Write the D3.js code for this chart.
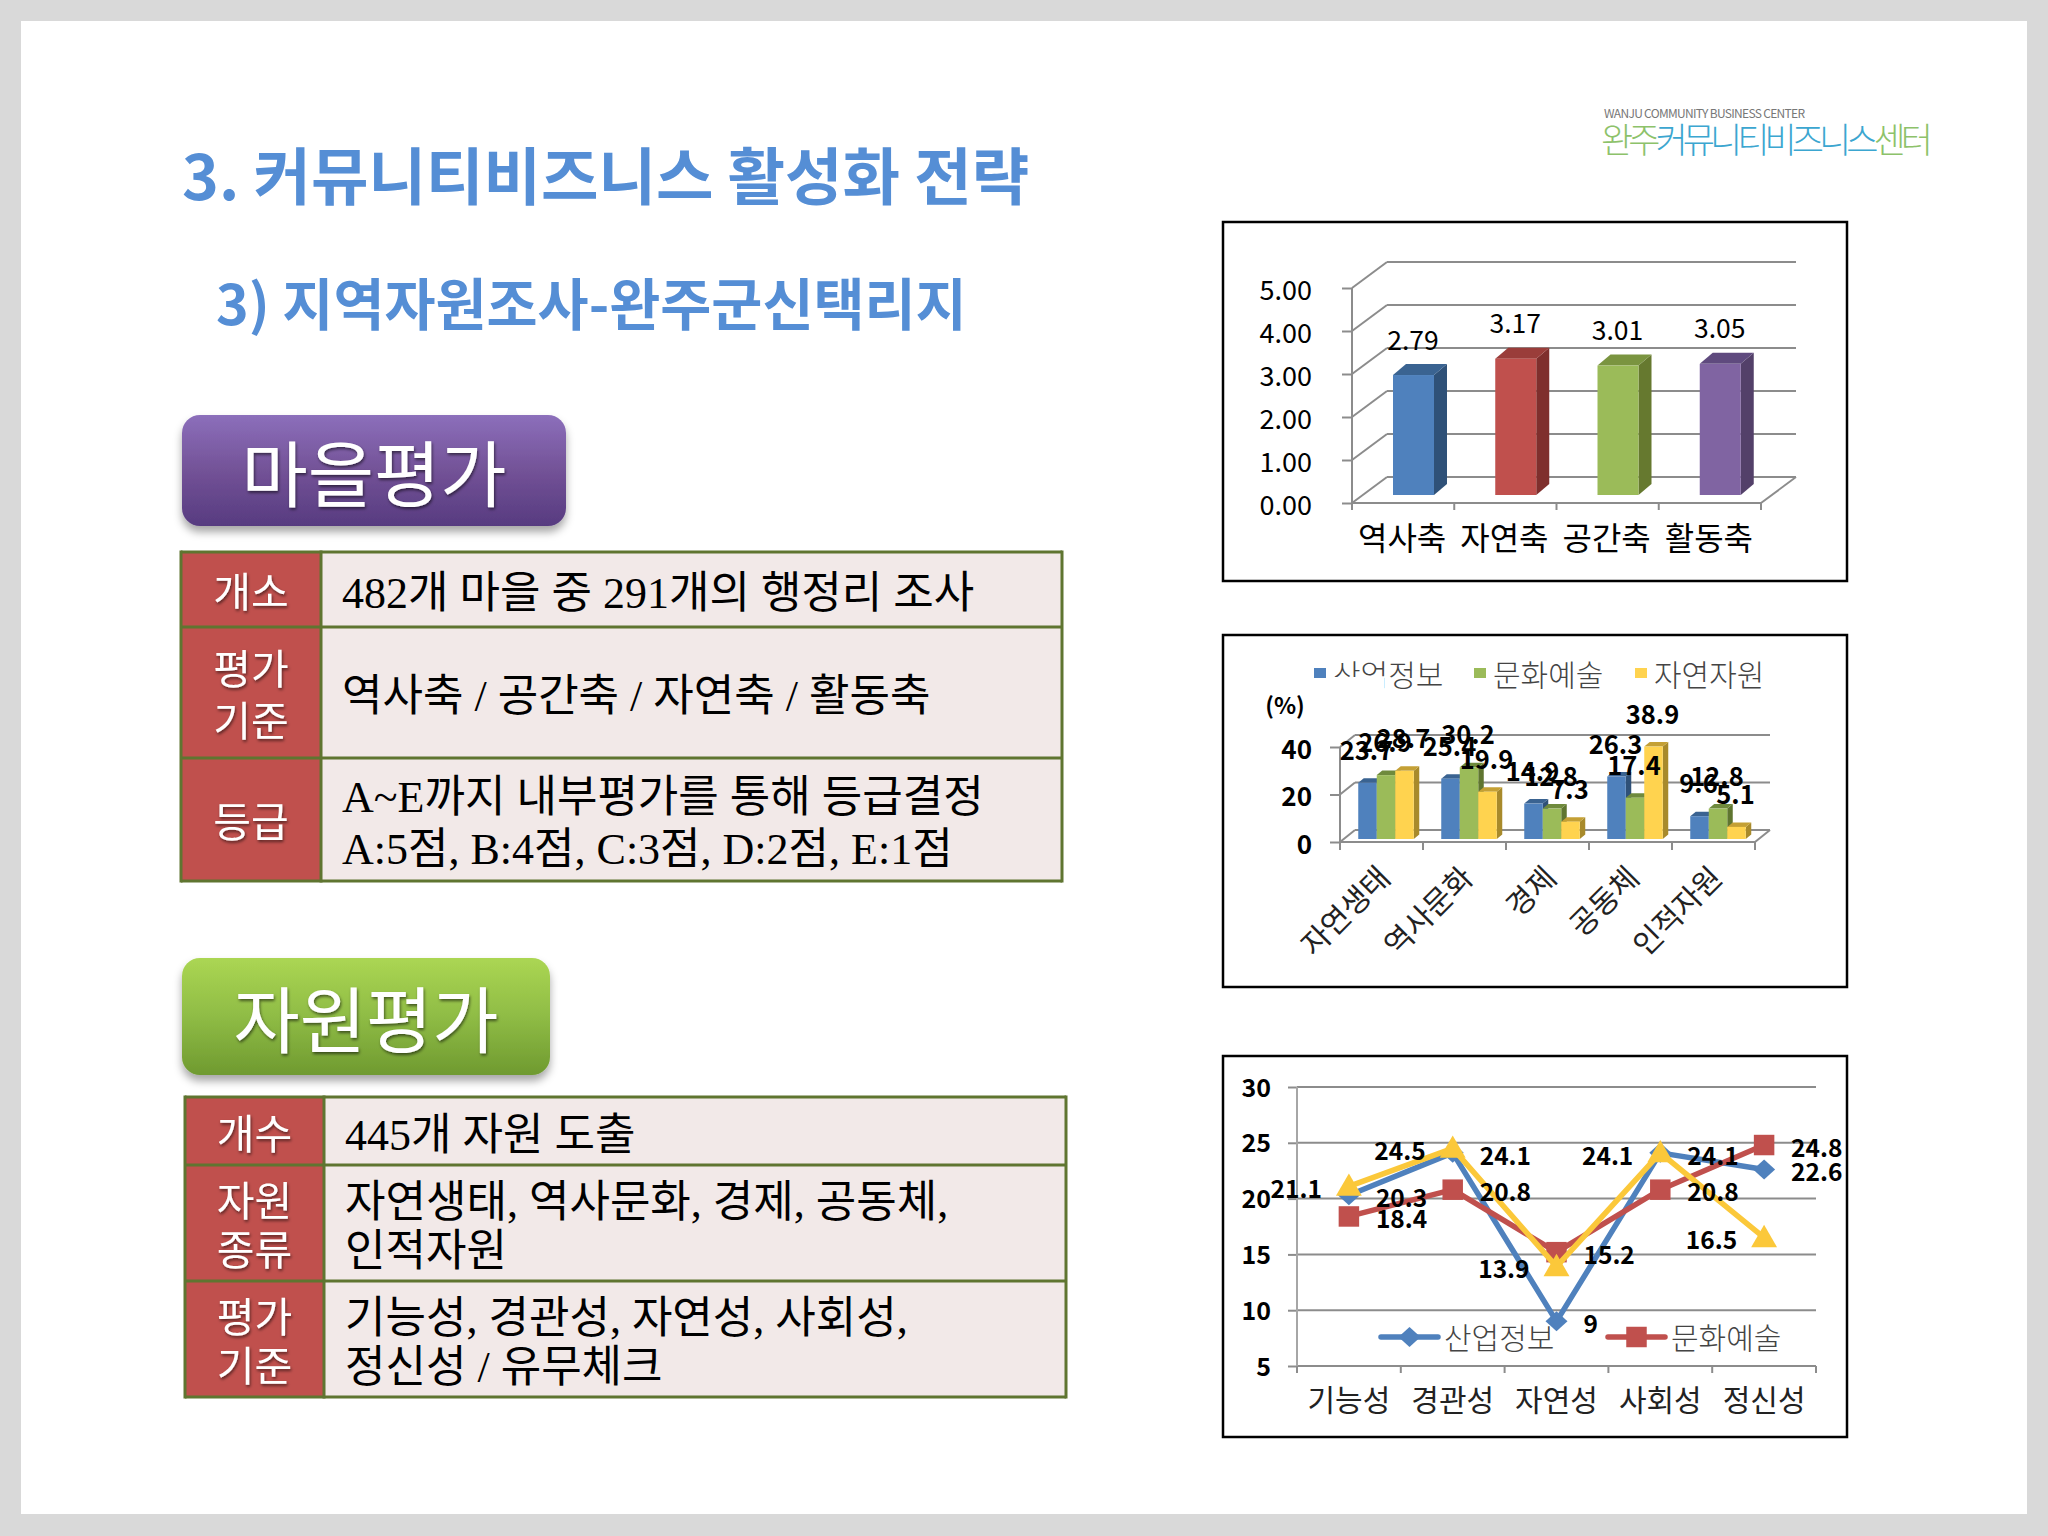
<!DOCTYPE html>
<html>
<head>
<meta charset="utf-8">
<script src="https://cdn.jsdelivr.net/npm/d3@7"></script>
<style>
	html, body { margin: 0; padding: 0; background: #d9d9d9; }
	svg { display: block; }
	text { font-family: "Noto Sans CJK KR", sans-serif; }
	.serif { font-family: "Liberation Serif", "Noto Sans CJK KR", serif; }
</style>
</head>
<body>
<div id="slide"></div>
<script>
// chart 1: village evaluation
var axisNames = ["역사축", "자연축", "공간축", "활동축"];
var axisScores = [2.79, 3.17, 3.01, 3.05];
var axisTicks = [0, 1, 2, 3, 4, 5];
var axisFront = ["#4f81bd", "#c0504d", "#9bbb59", "#8064a2"];
var axisSide = ["#2f5178", "#7f2f2d", "#66792f", "#534069"];
var axisTop = ["#3a6391", "#9a3d3a", "#7a9440", "#5f4a7e"];

// chart 2: resource share
var shareCategories = ["자연생태", "역사문화", "경제", "공동체", "인적자원"];
var shareSeries = ["산업정보", "문화예술", "자연자원"];
var shareIndustry = [23.7, 25.4, 14.9, 26.3, 9.6];
var shareCulture = [26.9, 30.2, 12.8, 17.4, 12.8];
var shareNature = [28.7, 19.9, 7.3, 38.9, 5.1];
var shareTicks = [0, 20, 40];
var shareFront = ["#4f81bd", "#9bbb59", "#ffd34f"];
var shareSide = ["#2f5178", "#5f7530", "#a88a2b"];
var shareTop = ["#3a6391", "#6f8a3c", "#c4a035"];

// chart 3: resource evaluation
var criteria = ["기능성", "경관성", "자연성", "사회성", "정신성"];
var evalIndustry = [20.3, 24.1, 9, 24.1, 22.6];
var evalCulture = [18.4, 20.8, 15.2, 20.8, 24.8];
var evalNature = [21.1, 24.5, 13.9, 24.1, 16.5];
var evalTicks = [5, 10, 15, 20, 25, 30];

// tables
var villageHead = [["개소"], ["평가", "기준"], ["등급"]];
var villageBody = [
	["482개 마을 중 291개의 행정리 조사"],
	["역사축 / 공간축 / 자연축 / 활동축"],
	["A~E까지 내부평가를 통해 등급결정", "A:5점, B:4점, C:3점, D:2점, E:1점"]
];
var resourceHead = [["개수"], ["자원", "종류"], ["평가", "기준"]];
var resourceBody = [
	["445개 자원 도출"],
	["자연생태, 역사문화, 경제, 공동체,", "인적자원"],
	["기능성, 경관성, 자연성, 사회성,", "정신성 / 유무체크"]
];

var GRID = "#8c8c8c";

var svg = d3.select("#slide").append("svg")
	.attr("width", 2048)
	.attr("height", 1536);

svg.append("rect").attr("width", 2048).attr("height", 1536).attr("fill", "#d9d9d9");
svg.append("rect").attr("x", 21).attr("y", 21).attr("width", 2006).attr("height", 1493).attr("fill", "#ffffff");

var defs = svg.append("defs");

function addGradient(id, top, mid, bottom) {
	var g = defs.append("linearGradient").attr("id", id)
		.attr("x1", 0).attr("y1", 0).attr("x2", 0).attr("y2", 1);
	g.append("stop").attr("offset", "0%").attr("stop-color", top);
	g.append("stop").attr("offset", "50%").attr("stop-color", mid);
	g.append("stop").attr("offset", "100%").attr("stop-color", bottom);
}
addGradient("purpleBtn", "#8c6fbb", "#735297", "#573b80");
addGradient("greenBtn", "#abd653", "#8fbc45", "#6f9a30");

var shadow = defs.append("filter").attr("id", "btnShadow")
	.attr("x", "-10%").attr("y", "-10%").attr("width", "120%").attr("height", "130%");
shadow.append("feDropShadow").attr("dx", 0).attr("dy", 6).attr("stdDeviation", 4)
	.attr("flood-color", "#000").attr("flood-opacity", 0.35);

var glow = defs.append("filter").attr("id", "textGlow")
	.attr("x", "-10%").attr("y", "-10%").attr("width", "120%").attr("height", "120%");
glow.append("feDropShadow").attr("dx", 1).attr("dy", 2).attr("stdDeviation", 1.5)
	.attr("flood-color", "#000").attr("flood-opacity", 0.55);

// headings
svg.append("text").attr("x", 182).attr("y", 200)
	.attr("font-size", 62.5).attr("font-weight", 700).attr("fill", "#558ed5")
	.text("3. 커뮤니티비즈니스 활성화 전략");
svg.append("text").attr("x", 216).attr("y", 325)
	.attr("font-size", 55.5).attr("font-weight", 700).attr("fill", "#558ed5")
	.text("3) 지역자원조사-완주군신택리지");

// logo
svg.append("text").attr("x", 1604).attr("y", 118)
	.attr("font-size", 12).attr("fill", "#777777")
	.attr("textLength", 201)
	.text("WANJU COMMUNITY BUSINESS CENTER");
var logo = svg.append("text").attr("x", 1601).attr("y", 153)
	.attr("font-size", 35).attr("font-weight", 300)
	.attr("textLength", 332);
logo.append("tspan").attr("fill", "#8dc26a").text("완주");
logo.append("tspan").attr("fill", "#3ba6d0").text("커뮤니티비즈니스");
logo.append("tspan").attr("fill", "#8dc26a").text("센터");

function drawButton(x, y, w, h, fill, label) {
	svg.append("rect")
		.attr("x", x).attr("y", y).attr("width", w).attr("height", h)
		.attr("rx", 18).attr("fill", "url(#" + fill + ")")
		.attr("filter", "url(#btnShadow)");
	svg.append("text")
		.attr("x", x + w / 2).attr("y", y + h / 2 + 30)
		.attr("text-anchor", "middle")
		.attr("font-size", 72).attr("fill", "#ffffff")
		.attr("filter", "url(#textGlow)")
		.text(label);
}
drawButton(182, 415, 384, 111, "purpleBtn", "마을평가");
drawButton(182, 958, 368, 117, "greenBtn", "자원평가");

// table rows are given by their y edges
function drawTable(x0, xSplit, x1, rowEdges, heads, bodies, lineGap) {
	var rows = d3.range(heads.length);

	svg.append("g").selectAll("rect").data(rows).enter().append("rect")
		.attr("x", x0).attr("y", function(i) { return rowEdges[i]; })
		.attr("width", xSplit - x0)
		.attr("height", function(i) { return rowEdges[i + 1] - rowEdges[i]; })
		.attr("fill", "#c0504d");
	svg.append("rect")
		.attr("x", xSplit).attr("y", rowEdges[0])
		.attr("width", x1 - xSplit).attr("height", rowEdges[rowEdges.length - 1] - rowEdges[0])
		.attr("fill", "#f2e9e8");

	rowEdges.forEach(function(y) {
		svg.append("line").attr("x1", x0).attr("x2", x1).attr("y1", y).attr("y2", y)
			.attr("stroke", "#5f7530").attr("stroke-width", 3);
	});
	[x0, xSplit, x1].forEach(function(x) {
		svg.append("line").attr("x1", x).attr("x2", x)
			.attr("y1", rowEdges[0] - 1.5).attr("y2", rowEdges[rowEdges.length - 1] + 1.5)
			.attr("stroke", "#5f7530").attr("stroke-width", 3);
	});

	rows.forEach(function(i) {
		var mid = (rowEdges[i] + rowEdges[i + 1]) / 2 + 3;
		heads[i].forEach(function(t, k) {
			svg.append("text")
				.attr("x", (x0 + xSplit) / 2)
				.attr("y", mid + (k - (heads[i].length - 1) / 2) * lineGap)
				.attr("dy", "0.36em")
				.attr("text-anchor", "middle")
				.attr("font-size", 41).attr("fill", "#ffffff")
				.attr("filter", "url(#textGlow)")
				.text(t);
		});
		bodies[i].forEach(function(t, k) {
			svg.append("text")
				.attr("class", "serif")
				.attr("x", xSplit + 21)
				.attr("y", mid + (k - (bodies[i].length - 1) / 2) * lineGap)
				.attr("dy", "0.36em")
				.attr("font-size", 44).attr("fill", "#000000")
				.text(t);
		});
	});
}
drawTable(181, 321, 1062, [552, 627, 758, 881], villageHead, villageBody, 52);
drawTable(185, 324, 1066, [1097, 1165, 1281, 1397], resourceHead, resourceBody, 49);

function drawBox(y0, y1) {
	svg.append("rect")
		.attr("x", 1223).attr("y", y0).attr("width", 624).attr("height", y1 - y0)
		.attr("fill", "#ffffff").attr("stroke", "#000000").attr("stroke-width", 2.5);
}

function styleValueAxis(g, size, weight, shift) {
	g.select(".domain").remove();
	g.selectAll("line").attr("stroke", GRID).attr("stroke-width", 2);
	g.selectAll("text")
		.attr("font-family", '"Noto Sans CJK KR"')
		.attr("font-size", size).attr("font-weight", weight).attr("fill", "#000000")
		.attr("y", shift);
}

// 3D column drawn as front, side and top faces
function column(g, x, w, yTop, yBase, dx, dy, front, side, top) {
	g.append("path")
		.attr("d", "M" + [x + w, yTop] + "L" + [x + w + dx, yTop - dy] + "L" + [x + w + dx, yBase - dy] + "L" + [x + w, yBase] + "Z")
		.attr("fill", side);
	g.append("path")
		.attr("d", "M" + [x, yTop] + "L" + [x + dx, yTop - dy] + "L" + [x + w + dx, yTop - dy] + "L" + [x + w, yTop] + "Z")
		.attr("fill", top);
	g.append("rect")
		.attr("x", x).attr("y", yTop).attr("width", w).attr("height", yBase - yTop)
		.attr("fill", front);
}

// walls of a 3D chart: back gridlines, diagonals, floor and bottom ticks
function drawWalls(g, xBand, y, ticks, backX, backY, tickLen) {
	var r = xBand.range(), edges = d3.range(xBand.domain().length + 1).map(function(i) { return r[0] + i * xBand.step(); });
	ticks.forEach(function(t) {
		g.append("line").attr("x1", r[0] + backX).attr("x2", r[1] + backX)
			.attr("y1", y(t) - backY).attr("y2", y(t) - backY)
			.attr("stroke", GRID).attr("stroke-width", 2);
		g.append("line").attr("x1", r[0]).attr("x2", r[0] + backX)
			.attr("y1", y(t)).attr("y2", y(t) - backY)
			.attr("stroke", GRID).attr("stroke-width", 2);
	});
	var bottom = y(ticks[0]);
	g.append("line").attr("x1", r[0]).attr("x2", r[0])
		.attr("y1", y(ticks[ticks.length - 1])).attr("y2", bottom)
		.attr("stroke", GRID).attr("stroke-width", 2);
	g.append("line").attr("x1", r[0]).attr("x2", r[1]).attr("y1", bottom).attr("y2", bottom)
		.attr("stroke", GRID).attr("stroke-width", 2);
	g.append("line").attr("x1", r[1]).attr("x2", r[1] + backX).attr("y1", bottom).attr("y2", bottom - backY)
		.attr("stroke", GRID).attr("stroke-width", 2);
	edges.forEach(function(x) {
		g.append("line").attr("x1", x).attr("x2", x).attr("y1", bottom).attr("y2", bottom + tickLen)
			.attr("stroke", GRID).attr("stroke-width", 2);
	});
}

// ---- chart 1
function drawAxisChart() {
	drawBox(222, 581);
	var g = svg.append("g");
	var x = d3.scaleBand().domain(axisNames).range([1352, 1761]);
	var y = d3.scaleLinear().domain([0, 5]).range([503, 288]);

	drawWalls(g, x, y, axisTicks, 35, 26, 7);

	g.append("g").attr("transform", "translate(1352,0)")
		.call(d3.axisLeft(y).tickValues(axisTicks).tickFormat(d3.format(".2f")).tickSize(10).tickPadding(30))
		.call(styleValueAxis, 27, 400, 3);

	axisNames.forEach(function(name, i) {
		var bx = x(name) + 41;
		column(g, bx, 41, y(axisScores[i]) - 8, y(0) - 8, 13, 11, axisFront[i], axisSide[i], axisTop[i]);
		g.append("text")
			.attr("x", bx + 20).attr("y", y(axisScores[i]) - 43)
			.attr("dy", "0.36em").attr("text-anchor", "middle")
			.attr("font-size", 26.5).attr("fill", "#000000")
			.text(d3.format(".2f")(axisScores[i]));
		g.append("text")
			.attr("x", x(name) + x.bandwidth() / 2 - 1).attr("y", 538)
			.attr("dy", "0.36em").attr("text-anchor", "middle")
			.attr("font-size", 32).attr("fill", "#000000")
			.text(name);
	});
}

// ---- chart 2
function drawShareChart() {
	drawBox(635, 987);
	var g = svg.append("g");
	var x = d3.scaleBand().domain(shareCategories).range([1340, 1755]);
	var group = d3.scaleBand().domain(shareSeries).range([0, 55.5]);
	var y = d3.scaleLinear().domain([0, 40]).range([842, 747]);
	var values = [shareIndustry, shareCulture, shareNature];

	drawWalls(g, x, y, shareTicks, 15, 12, 8);

	g.append("g").attr("transform", "translate(1340,0)")
		.call(d3.axisLeft(y).tickValues(shareTicks).tickSize(10).tickPadding(18))
		.call(styleValueAxis, 26, 700, 3);

	g.append("text").attr("x", 1285).attr("y", 706)
		.attr("dy", "0.36em").attr("text-anchor", "middle")
		.attr("font-size", 23).attr("font-weight", 700).attr("fill", "#000000")
		.text("(%)");

	shareCategories.forEach(function(cat, c) {
		shareSeries.forEach(function(s, k) {
			var bx = x(cat) + 18.25 + group(s);
			column(g, bx, group.bandwidth(), y(values[k][c]) - 3, y(0) - 3, 5.5, 4.5, shareFront[k], shareSide[k], shareTop[k]);
		});
		g.append("text")
			.attr("transform", "translate(" + (x(cat) + x.bandwidth() / 2 + 3) + ",872) rotate(-45)")
			.attr("dy", "0.36em").attr("text-anchor", "end")
			.attr("font-size", 30).attr("fill", "#222222")
			.text(cat);
	});

	// data labels sit on top of all bars and overlap as in the source
	shareCategories.forEach(function(cat, c) {
		shareSeries.forEach(function(s, k) {
			g.append("text")
				.attr("x", x(cat) + 18.25 + group(s) + group.bandwidth() / 2 - 1)
				.attr("y", y(values[k][c]) - 35)
				.attr("dy", "0.36em").attr("text-anchor", "middle")
				.attr("font-size", 25.5).attr("font-weight", 700).attr("fill", "#000000")
				.text(values[k][c]);
		});
	});

	// legend
	var legendX = d3.scaleOrdinal().domain(shareSeries).range([1314, 1474, 1635]);
	shareSeries.forEach(function(s, k) {
		g.append("rect").attr("x", legendX(s)).attr("y", 668).attr("width", 12).attr("height", 10)
			.attr("fill", shareFront[k]);
		g.append("text").attr("x", legendX(s) + 19).attr("y", 675)
			.attr("dy", "0.36em")
			.attr("font-size", 30).attr("font-weight", 300).attr("fill", "#444444")
			.text(s);
	});
	// the first legend label is partly cut off in the source
	g.append("rect").attr("x", 1334).attr("y", 677).attr("width", 50).attr("height", 15).attr("fill", "#ffffff");
}

// ---- chart 3
function drawEvalChart() {
	drawBox(1056, 1437);
	var g = svg.append("g");
	var x = d3.scaleBand().domain(criteria).range([1297, 1816]);
	var y = d3.scaleLinear().domain([5, 30]).range([1366, 1087]);
	var px = function(d) { return x(d) + x.bandwidth() / 2; };

	g.append("g").attr("transform", "translate(1297,0)")
		.call(d3.axisLeft(y).tickValues(evalTicks).tickSize(9).tickPadding(17))
		.call(styleValueAxis, 25, 700, 1);

	evalTicks.forEach(function(t) {
		g.append("line").attr("x1", 1297).attr("x2", 1816).attr("y1", y(t)).attr("y2", y(t))
			.attr("stroke", GRID).attr("stroke-width", 2);
	});
	g.append("line").attr("x1", 1297).attr("x2", 1297).attr("y1", y(30)).attr("y2", 1373)
		.attr("stroke", "#a6a6a6").attr("stroke-width", 2);
	d3.range(criteria.length + 1).forEach(function(i) {
		var tx = 1297 + i * x.step();
		g.append("line").attr("x1", tx).attr("x2", tx).attr("y1", y(5)).attr("y2", 1373)
			.attr("stroke", GRID).attr("stroke-width", 2);
	});

	var lineGen = d3.line().x(function(d, i) { return px(criteria[i]); }).y(function(d) { return y(d); });
	var series = [
		{ values: evalIndustry, color: "#4f81bd", side: 1 },
		{ values: evalCulture, color: "#c0504d", side: 1 },
		{ values: evalNature, color: "#fbc83a", side: -1 }
	];

	function marker(parent, k, cx, cy) {
		if (k == 0) {
			parent.append("path").attr("d", "M" + [cx - 11, cy] + "L" + [cx, cy - 10] + "L" + [cx + 11, cy] + "L" + [cx, cy + 10] + "Z")
				.attr("fill", series[k].color);
		} else if (k == 1) {
			parent.append("path").attr("transform", "translate(" + cx + "," + cy + ")")
				.attr("d", d3.symbol().type(d3.symbolSquare).size(420)())
				.attr("fill", series[k].color);
		} else {
			parent.append("path").attr("transform", "translate(" + cx + "," + (cy + 2) + ")")
				.attr("d", d3.symbol().type(d3.symbolTriangle).size(290)())
				.attr("fill", series[k].color);
		}
	}

	series.forEach(function(s, k) {
		g.append("path").attr("d", lineGen(s.values))
			.attr("fill", "none").attr("stroke", s.color).attr("stroke-width", 5.5)
			.attr("stroke-linejoin", "round");
		s.values.forEach(function(v, i) { marker(g, k, px(criteria[i]), y(v)); });
	});

	series.forEach(function(s) {
		s.values.forEach(function(v, i) {
			g.append("text")
				.attr("x", px(criteria[i]) + s.side * 27).attr("y", y(v) + 3)
				.attr("dy", "0.36em")
				.attr("text-anchor", s.side > 0 ? "start" : "end")
				.attr("font-size", 24.5).attr("font-weight", 700).attr("fill", "#000000")
				.text(v);
		});
	});

	criteria.forEach(function(c) {
		g.append("text").attr("x", px(c)).attr("y", 1400)
			.attr("dy", "0.36em").attr("text-anchor", "middle")
			.attr("font-size", 30).attr("fill", "#222222")
			.text(c);
	});

	// legend, the third series is cut off in the source
	[[1381, shareSeries[0]], [1608, shareSeries[1]]].forEach(function(item, k) {
		var lx = item[0];
		g.append("line").attr("x1", lx).attr("x2", lx + 57).attr("y1", 1337).attr("y2", 1337)
			.attr("stroke", series[k].color).attr("stroke-width", 5.5).attr("stroke-linecap", "round");
		marker(g, k, lx + 28.5, 1337);
		g.append("text").attr("x", lx + 63).attr("y", 1338)
			.attr("dy", "0.36em")
			.attr("font-size", 30).attr("font-weight", 300).attr("fill", "#444444")
			.text(item[1]);
	});
}

drawAxisChart();
drawShareChart();
drawEvalChart();
</script>
</body>
</html>
